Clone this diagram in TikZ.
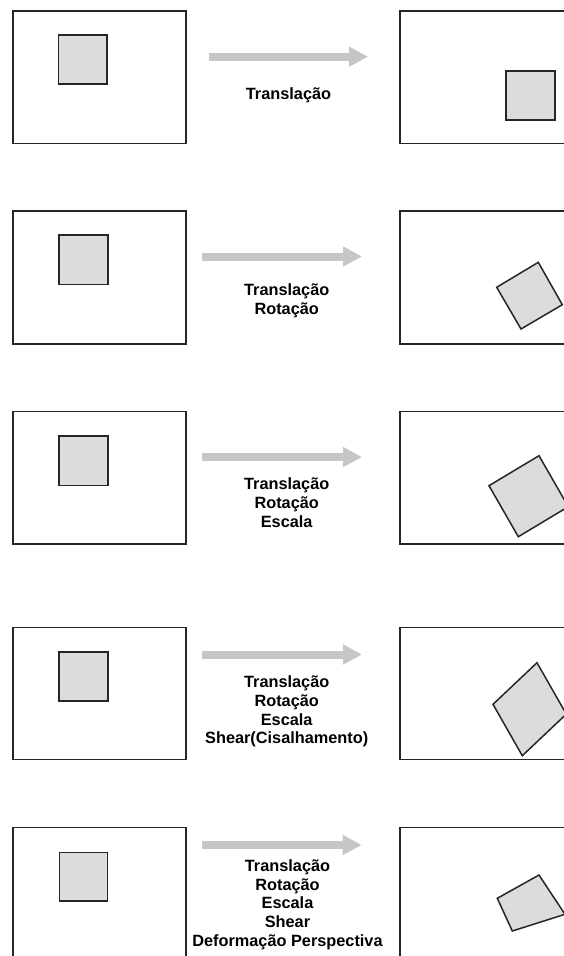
\documentclass[tikz,border=0pt]{standalone}
\usepackage{fontspec}
\setmainfont{Liberation Sans}
\usetikzlibrary{arrows.meta}
\definecolor{boxline}{HTML}{262626}
\definecolor{sqfill}{HTML}{DCDCDC}
\definecolor{arrgray}{HTML}{C6C6C6}
\tikzset{
  frame/.style={draw=boxline,line width=1.6pt},
  figshape/.style={draw=boxline,line width=1.5pt,fill=sqfill,line join=miter},
  bigarrow/.style={draw=arrgray,line width=8pt,-{Triangle[length=19pt,width=19pt]}},
  lbl/.style={font=\bfseries\fontsize{16.3pt}{18.5pt}\selectfont,anchor=base,inner sep=0pt,text=black}
}
\begin{document}
\begin{tikzpicture}[x=1pt,y=-1pt]
\path[use as bounding box] (0,0) rectangle (564,956);
\begin{scope}
\clip (0,0) rectangle (564,956);
% ---------- row 1 ----------
\draw[frame] (12.7,11) rectangle (185.7,143.3);
\draw[figshape] (58.3,35) rectangle (107,84);
\draw[frame] (400,11) rectangle (590,143.3);
\draw[figshape] (506,71) rectangle (555,120);
\coordinate (a1s) at (209,56.7);
\coordinate (a1e) at (368,56.7);
\draw[bigarrow] (a1s) -- (a1e);
\node[lbl] (t1a) at (288.5,99.5) {Translação};
% ---------- row 2 ----------
\draw[frame] (12.7,211) rectangle (185.7,343.8);
\draw[figshape] (59,235) rectangle (108,284.5);
\draw[frame] (400,211) rectangle (590,343.8);
\draw[figshape] (496.7,287.3) -- (538.3,262.3) -- (562.3,304.7) -- (521,329) -- cycle;
\coordinate (a2s) at (202,256.5);
\coordinate (a2e) at (362,256.5);
\draw[bigarrow] (a2s) -- (a2e);
\node[lbl] (t2a) at (286.7,295) {Translação};
\node[lbl] (t2b) at (286.7,314) {Rotação};
% ---------- row 3 ----------
\draw[frame] (12.7,411.5) rectangle (185.7,544);
\draw[figshape] (59,436) rectangle (108,485.5);
\draw[frame] (400,411.5) rectangle (590,544);
\draw[figshape] (489,485.7) -- (539,455.7) -- (568.3,506.7) -- (518.3,536.7) -- cycle;
\coordinate (a3s) at (202,457);
\coordinate (a3e) at (362,457);
\draw[bigarrow] (a3s) -- (a3e);
\node[lbl] (t3a) at (286.7,489) {Translação};
\node[lbl] (t3b) at (286.7,508) {Rotação};
\node[lbl] (t3c) at (286.7,527) {Escala};
% ---------- row 4 ----------
\draw[frame] (12.7,627.5) rectangle (185.7,759.5);
\draw[figshape] (59,652) rectangle (108,701);
\draw[frame] (400,627.5) rectangle (590,759.5);
\draw[figshape] (493,704.3) -- (537,662.7) -- (566.3,714.1) -- (522.3,755.7) -- cycle;
\coordinate (a4s) at (202,654.5);
\coordinate (a4e) at (362,654.5);
\draw[bigarrow] (a4s) -- (a4e);
\node[lbl] (t4a) at (286.7,687.5) {Translação};
\node[lbl] (t4b) at (286.7,706.3) {Rotação};
\node[lbl] (t4c) at (286.7,725) {Escala};
\node[lbl] (t4d) at (286.7,743.8) {Shear(Cisalhamento)};
% ---------- row 5 ----------
\draw[frame] (13,827.5) rectangle (186,980);
\draw[figshape] (59.3,852.3) rectangle (107.3,901);
\draw[frame] (400,827.5) rectangle (590,980);
\draw[figshape] (497.3,898.3) -- (539,875) -- (565,914.3) -- (512.3,931) -- cycle;
\coordinate (a5s) at (201.7,845);
\coordinate (a5e) at (361.7,845);
\draw[bigarrow] (a5s) -- (a5e);
\node[lbl] (t5a) at (287.5,871.3) {Translação};
\node[lbl] (t5b) at (287.5,890.1) {Rotação};
\node[lbl] (t5c) at (287.5,908.9) {Escala};
\node[lbl] (t5d) at (287.5,927.7) {Shear};
\node[lbl] (t5e) at (287.5,946.5) {Deformação Perspectiva};
\end{scope}
\end{tikzpicture}
\end{document}
